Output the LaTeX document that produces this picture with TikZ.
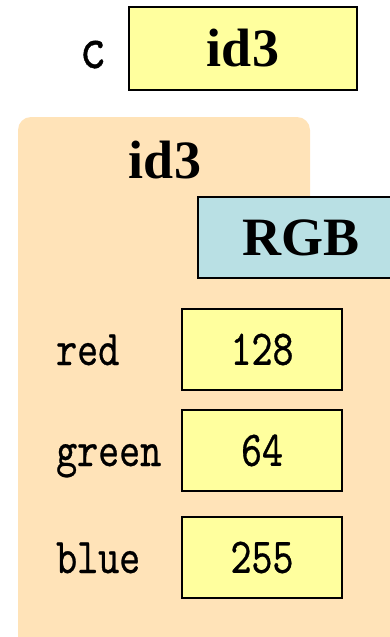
\documentclass[tikz,border=0pt]{standalone}
\usepackage{fontspec}
\setmainfont{Liberation Serif}
\newfontfamily\twfont{lmmono10-regular}[Extension=.otf,FakeStretch=0.8,FakeBold=0.6]
\definecolor{folderfill}{RGB}{255,227,184}
\definecolor{varfill}{RGB}{255,255,158}
\definecolor{classfill}{RGB}{185,224,228}

\begin{document}
\begin{tikzpicture}[x=1pt,y=-1pt,
	varbox/.style={draw=black,line width=1.6pt,fill=varfill,inner sep=0pt},
	classbox/.style={draw=black,line width=1.6pt,fill=classfill,inner sep=0pt},
	boldtext/.style={font=\bfseries\fontsize{54}{60}\selectfont},
	attrname/.style={font=\twfont\fontsize{50}{60}\selectfont,inner sep=0pt}]
	\useasboundingbox (0,0) rectangle (390,637);

	% The variable c
	\node[attrname,font=\twfont\fontsize{62}{70}\selectfont,anchor=base] (c) at (93,68) {c};
	\node[varbox,boldtext,minimum width=228pt,minimum height=83pt] (cval) at (243,48.5) {id3};

	% The folder
	\fill[folderfill] (18,637) -- (18,130) arc[start angle=180,end angle=270,radius=13]
		-- (297,117) arc[start angle=270,end angle=360,radius=13]
		-- (310,197) -- (390,197) -- (390,637) -- cycle;
	\node[boldtext,inner sep=0pt] (title) at (165,160.5) {id3};
	\node[classbox,boldtext,minimum width=207pt,minimum height=81pt] (class) at (301.5,237.5) {RGB};

	% The attributes
	\foreach \name/\val/\c in {red/128/349.5, green/64/450.5, blue/255/557.5}
	{
		\node[attrname,anchor=base west] (\name) at (56,\c+15.5) {\name};
		\node[varbox,attrname,minimum width=160pt,minimum height=81pt] (\name val) at (262,\c) {\val};
	}
\end{tikzpicture}
\end{document}
